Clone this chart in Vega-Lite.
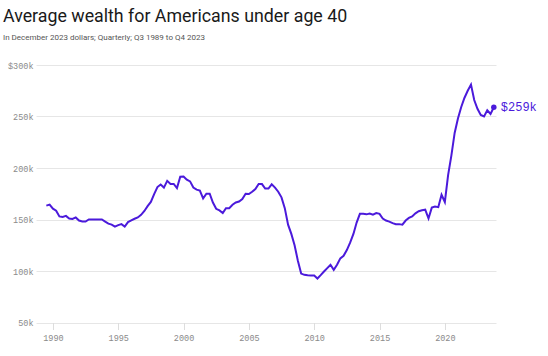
{
  "$schema": "https://vega.github.io/schema/vega-lite/v6.json",
  "autosize": "none",
  "padding": {"left": 36, "top": 65, "right": 52, "bottom": 33},
  "width": 460,
  "height": 257.5,
  "background": "white",
  "title": {
    "text": "Average wealth for Americans under age 40",
    "subtitle": "In December 2023 dollars; Quarterly; Q3 1989 to Q4 2023",
    "anchor": "start",
    "frame": "group",
    "dx": -33,
    "offset": 19,
    "font": "Roboto",
    "fontSize": 17.8,
    "fontWeight": 400,
    "color": "#1a1a1a",
    "subtitleFont": "Roboto",
    "subtitleFontSize": 8,
    "subtitleColor": "#555555",
    "subtitlePadding": 8
  },
  "config": {
    "view": {"stroke": null},
    "axis": {
      "labelFont": "Liberation Mono",
      "labelFontSize": 8.5,
      "labelColor": "#8a8a8a",
      "title": null
    }
  },
  "data": {
    "values": [
      {"date": "1989-07-01", "wealth": 163500},
      {"date": "1989-10-01", "wealth": 164500},
      {"date": "1990-01-01", "wealth": 160500},
      {"date": "1990-04-01", "wealth": 158500},
      {"date": "1990-07-01", "wealth": 153000},
      {"date": "1990-10-01", "wealth": 152500},
      {"date": "1991-01-01", "wealth": 153500},
      {"date": "1991-04-01", "wealth": 151000},
      {"date": "1991-07-01", "wealth": 150500},
      {"date": "1991-10-01", "wealth": 152000},
      {"date": "1992-01-01", "wealth": 149000},
      {"date": "1992-04-01", "wealth": 148000},
      {"date": "1992-07-01", "wealth": 148000},
      {"date": "1992-10-01", "wealth": 150000},
      {"date": "1993-01-01", "wealth": 150000},
      {"date": "1993-04-01", "wealth": 150000},
      {"date": "1993-07-01", "wealth": 150000},
      {"date": "1993-10-01", "wealth": 150000},
      {"date": "1994-01-01", "wealth": 148000},
      {"date": "1994-04-01", "wealth": 146000},
      {"date": "1994-07-01", "wealth": 145000},
      {"date": "1994-10-01", "wealth": 143000},
      {"date": "1995-01-01", "wealth": 144500},
      {"date": "1995-04-01", "wealth": 145500},
      {"date": "1995-07-01", "wealth": 143200},
      {"date": "1995-10-01", "wealth": 147500},
      {"date": "1996-01-01", "wealth": 149200},
      {"date": "1996-04-01", "wealth": 150700},
      {"date": "1996-07-01", "wealth": 152000},
      {"date": "1996-10-01", "wealth": 154500},
      {"date": "1997-01-01", "wealth": 158300},
      {"date": "1997-04-01", "wealth": 163000},
      {"date": "1997-07-01", "wealth": 167000},
      {"date": "1997-10-01", "wealth": 174600},
      {"date": "1998-01-01", "wealth": 181500},
      {"date": "1998-04-01", "wealth": 184000},
      {"date": "1998-07-01", "wealth": 181000},
      {"date": "1998-10-01", "wealth": 187500},
      {"date": "1999-01-01", "wealth": 184500},
      {"date": "1999-04-01", "wealth": 184500},
      {"date": "1999-07-01", "wealth": 180500},
      {"date": "1999-10-01", "wealth": 191500},
      {"date": "2000-01-01", "wealth": 191800},
      {"date": "2000-04-01", "wealth": 188600},
      {"date": "2000-07-01", "wealth": 187000},
      {"date": "2000-10-01", "wealth": 181000},
      {"date": "2001-01-01", "wealth": 179000},
      {"date": "2001-04-01", "wealth": 178000},
      {"date": "2001-07-01", "wealth": 170500},
      {"date": "2001-10-01", "wealth": 175000},
      {"date": "2002-01-01", "wealth": 175000},
      {"date": "2002-04-01", "wealth": 166500},
      {"date": "2002-07-01", "wealth": 160400},
      {"date": "2002-10-01", "wealth": 158800},
      {"date": "2003-01-01", "wealth": 156200},
      {"date": "2003-04-01", "wealth": 161000},
      {"date": "2003-07-01", "wealth": 161000},
      {"date": "2003-10-01", "wealth": 164300},
      {"date": "2004-01-01", "wealth": 166500},
      {"date": "2004-04-01", "wealth": 167500},
      {"date": "2004-07-01", "wealth": 169800},
      {"date": "2004-10-01", "wealth": 175000},
      {"date": "2005-01-01", "wealth": 174700},
      {"date": "2005-04-01", "wealth": 177000},
      {"date": "2005-07-01", "wealth": 179500},
      {"date": "2005-10-01", "wealth": 184400},
      {"date": "2006-01-01", "wealth": 184400},
      {"date": "2006-04-01", "wealth": 180000},
      {"date": "2006-07-01", "wealth": 180000},
      {"date": "2006-10-01", "wealth": 184200},
      {"date": "2007-01-01", "wealth": 181000},
      {"date": "2007-04-01", "wealth": 177000},
      {"date": "2007-07-01", "wealth": 171500},
      {"date": "2007-10-01", "wealth": 161000},
      {"date": "2008-01-01", "wealth": 145000},
      {"date": "2008-04-01", "wealth": 136000},
      {"date": "2008-07-01", "wealth": 125000},
      {"date": "2008-10-01", "wealth": 110000},
      {"date": "2009-01-01", "wealth": 97500},
      {"date": "2009-04-01", "wealth": 96300},
      {"date": "2009-07-01", "wealth": 95800},
      {"date": "2009-10-01", "wealth": 95600},
      {"date": "2010-01-01", "wealth": 95600},
      {"date": "2010-04-01", "wealth": 92700},
      {"date": "2010-07-01", "wealth": 96000},
      {"date": "2010-10-01", "wealth": 99500},
      {"date": "2011-01-01", "wealth": 102800},
      {"date": "2011-04-01", "wealth": 106000},
      {"date": "2011-07-01", "wealth": 101100},
      {"date": "2011-10-01", "wealth": 106000},
      {"date": "2012-01-01", "wealth": 112300},
      {"date": "2012-04-01", "wealth": 114700},
      {"date": "2012-07-01", "wealth": 120300},
      {"date": "2012-10-01", "wealth": 127500},
      {"date": "2013-01-01", "wealth": 136000},
      {"date": "2013-04-01", "wealth": 147000},
      {"date": "2013-07-01", "wealth": 155500},
      {"date": "2013-10-01", "wealth": 155500},
      {"date": "2014-01-01", "wealth": 155000},
      {"date": "2014-04-01", "wealth": 155800},
      {"date": "2014-07-01", "wealth": 154600},
      {"date": "2014-10-01", "wealth": 156200},
      {"date": "2015-01-01", "wealth": 155500},
      {"date": "2015-04-01", "wealth": 151000},
      {"date": "2015-07-01", "wealth": 149000},
      {"date": "2015-10-01", "wealth": 148000},
      {"date": "2016-01-01", "wealth": 146500},
      {"date": "2016-04-01", "wealth": 145500},
      {"date": "2016-07-01", "wealth": 145500},
      {"date": "2016-10-01", "wealth": 145000},
      {"date": "2017-01-01", "wealth": 149000},
      {"date": "2017-04-01", "wealth": 151500},
      {"date": "2017-07-01", "wealth": 153000},
      {"date": "2017-10-01", "wealth": 156000},
      {"date": "2018-01-01", "wealth": 158000},
      {"date": "2018-04-01", "wealth": 159000},
      {"date": "2018-07-01", "wealth": 159500},
      {"date": "2018-10-01", "wealth": 151000},
      {"date": "2019-01-01", "wealth": 161500},
      {"date": "2019-04-01", "wealth": 162500},
      {"date": "2019-07-01", "wealth": 162000},
      {"date": "2019-10-01", "wealth": 174000},
      {"date": "2020-01-01", "wealth": 167000},
      {"date": "2020-04-01", "wealth": 193000},
      {"date": "2020-07-01", "wealth": 212000},
      {"date": "2020-10-01", "wealth": 234000},
      {"date": "2021-01-01", "wealth": 248000},
      {"date": "2021-04-01", "wealth": 259000},
      {"date": "2021-07-01", "wealth": 268000},
      {"date": "2021-10-01", "wealth": 275000},
      {"date": "2022-01-01", "wealth": 281000},
      {"date": "2022-04-01", "wealth": 266000},
      {"date": "2022-07-01", "wealth": 257500},
      {"date": "2022-10-01", "wealth": 251500},
      {"date": "2023-01-01", "wealth": 250000},
      {"date": "2023-04-01", "wealth": 256000},
      {"date": "2023-07-01", "wealth": 252500},
      {"date": "2023-10-01", "wealth": 259000}
    ]
  },
  "encoding": {
    "x": {
      "field": "date",
      "type": "temporal",
      "scale": {"domain": ["1988-09-15", "2023-12-01"]},
      "axis": {
        "values": ["1990-01-01", "1995-01-01", "2000-01-01", "2005-01-01", "2010-01-01", "2015-01-01", "2020-01-01"],
        "format": "%Y",
        "grid": false,
        "domain": false,
        "ticks": true,
        "tickSize": 7,
        "tickColor": "#dddddd",
        "labelPadding": 4
      }
    },
    "y": {
      "field": "wealth",
      "type": "quantitative",
      "scale": {"domain": [50000, 300000], "nice": false, "zero": false},
      "axis": {
        "values": [50000, 100000, 150000, 200000, 250000, 300000],
        "labelExpr": "datum.value == 300000 ? '$300k' : format(datum.value / 1000, 'd') + 'k'",
        "domain": false,
        "ticks": false,
        "grid": true,
        "gridColor": "#e6e6e6",
        "gridWidth": 1,
        "labelPadding": 3
      }
    }
  },
  "layer": [
    {
      "mark": {"type": "line", "color": "#4b1adb", "strokeWidth": 2, "interpolate": "linear"}
    },
    {
      "transform": [{"filter": "utcyear(datum.date) == 2023 && utcquarter(datum.date) == 4"}],
      "mark": {"type": "point", "filled": true, "color": "#4b1adb", "size": 30, "opacity": 1}
    },
    {
      "transform": [{"filter": "utcyear(datum.date) == 2023 && utcquarter(datum.date) == 4"}],
      "mark": {"type": "text", "align": "left", "baseline": "middle", "dx": 7, "font": "Liberation Mono", "fontSize": 12, "color": "#4b1adb"},
      "encoding": {"text": {"field": "wealth", "type": "quantitative", "format": "$.3s"}}
    }
  ]
}
